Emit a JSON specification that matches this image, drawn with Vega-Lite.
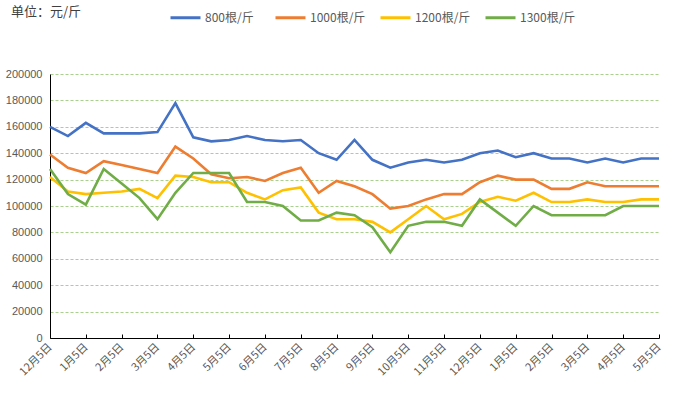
{
  "$schema": "https://vega.github.io/schema/vega-lite/v6.json",
  "autosize": "none",
  "width": 609,
  "height": 264,
  "padding": {"left": 50, "top": 74, "right": 32, "bottom": 56},
  "background": "white",
  "title": {"text": "单位：元/斤", "anchor": "start", "frame": "group", "dx": -39, "offset": 0, "dy": 18, "fontSize": 13, "fontWeight": "normal", "color": "#404040", "font": "Noto Sans CJK SC"},
  "config": {"view": {"stroke": null}, "font": "Noto Sans CJK SC"},
  "data": {"values": [
    {"date": "2019-12-05", "800根/斤": 160000, "1000根/斤": 139000, "1200根/斤": 122000, "1300根/斤": 128000},
    {"date": "2019-12-20", "800根/斤": 153000, "1000根/斤": 129000, "1200根/斤": 111000, "1300根/斤": 109000},
    {"date": "2020-01-05", "800根/斤": 163000, "1000根/斤": 125000, "1200根/斤": 109000, "1300根/斤": 101000},
    {"date": "2020-01-20", "800根/斤": 155000, "1000根/斤": 134000, "1200根/斤": 110000, "1300根/斤": 128000},
    {"date": "2020-02-05", "800根/斤": 155000, "1000根/斤": 131000, "1200根/斤": 111000, "1300根/斤": 117000},
    {"date": "2020-02-20", "800根/斤": 155000, "1000根/斤": 128000, "1200根/斤": 113000, "1300根/斤": 106000},
    {"date": "2020-03-05", "800根/斤": 156000, "1000根/斤": 125000, "1200根/斤": 106000, "1300根/斤": 90000},
    {"date": "2020-03-20", "800根/斤": 178000, "1000根/斤": 145000, "1200根/斤": 123000, "1300根/斤": 110000},
    {"date": "2020-04-05", "800根/斤": 152000, "1000根/斤": 136000, "1200根/斤": 122000, "1300根/斤": 125000},
    {"date": "2020-04-20", "800根/斤": 149000, "1000根/斤": 124000, "1200根/斤": 118000, "1300根/斤": 125000},
    {"date": "2020-05-05", "800根/斤": 150000, "1000根/斤": 121000, "1200根/斤": 118000, "1300根/斤": 125000},
    {"date": "2020-05-20", "800根/斤": 153000, "1000根/斤": 122000, "1200根/斤": 110000, "1300根/斤": 103000},
    {"date": "2020-06-05", "800根/斤": 150000, "1000根/斤": 119000, "1200根/斤": 105000, "1300根/斤": 103000},
    {"date": "2020-06-20", "800根/斤": 149000, "1000根/斤": 125000, "1200根/斤": 112000, "1300根/斤": 100000},
    {"date": "2020-07-05", "800根/斤": 150000, "1000根/斤": 129000, "1200根/斤": 114000, "1300根/斤": 89000},
    {"date": "2020-07-20", "800根/斤": 140000, "1000根/斤": 110000, "1200根/斤": 95000, "1300根/斤": 89000},
    {"date": "2020-08-05", "800根/斤": 135000, "1000根/斤": 119000, "1200根/斤": 90000, "1300根/斤": 95000},
    {"date": "2020-08-20", "800根/斤": 150000, "1000根/斤": 115000, "1200根/斤": 90000, "1300根/斤": 93000},
    {"date": "2020-09-05", "800根/斤": 135000, "1000根/斤": 109000, "1200根/斤": 88000, "1300根/斤": 84000},
    {"date": "2020-09-20", "800根/斤": 129000, "1000根/斤": 98000, "1200根/斤": 80000, "1300根/斤": 65000},
    {"date": "2020-10-05", "800根/斤": 133000, "1000根/斤": 100000, "1200根/斤": 90000, "1300根/斤": 85000},
    {"date": "2020-10-20", "800根/斤": 135000, "1000根/斤": 105000, "1200根/斤": 100000, "1300根/斤": 88000},
    {"date": "2020-11-05", "800根/斤": 133000, "1000根/斤": 109000, "1200根/斤": 90000, "1300根/斤": 88000},
    {"date": "2020-11-20", "800根/斤": 135000, "1000根/斤": 109000, "1200根/斤": 94000, "1300根/斤": 85000},
    {"date": "2020-12-05", "800根/斤": 140000, "1000根/斤": 118000, "1200根/斤": 103000, "1300根/斤": 105000},
    {"date": "2020-12-20", "800根/斤": 142000, "1000根/斤": 123000, "1200根/斤": 107000, "1300根/斤": 95000},
    {"date": "2021-01-05", "800根/斤": 137000, "1000根/斤": 120000, "1200根/斤": 104000, "1300根/斤": 85000},
    {"date": "2021-01-20", "800根/斤": 140000, "1000根/斤": 120000, "1200根/斤": 110000, "1300根/斤": 100000},
    {"date": "2021-02-05", "800根/斤": 136000, "1000根/斤": 113000, "1200根/斤": 103000, "1300根/斤": 93000},
    {"date": "2021-02-20", "800根/斤": 136000, "1000根/斤": 113000, "1200根/斤": 103000, "1300根/斤": 93000},
    {"date": "2021-03-05", "800根/斤": 133000, "1000根/斤": 118000, "1200根/斤": 105000, "1300根/斤": 93000},
    {"date": "2021-03-20", "800根/斤": 136000, "1000根/斤": 115000, "1200根/斤": 103000, "1300根/斤": 93000},
    {"date": "2021-04-05", "800根/斤": 133000, "1000根/斤": 115000, "1200根/斤": 103000, "1300根/斤": 100000},
    {"date": "2021-04-20", "800根/斤": 136000, "1000根/斤": 115000, "1200根/斤": 105000, "1300根/斤": 100000},
    {"date": "2021-05-05", "800根/斤": 136000, "1000根/斤": 115000, "1200根/斤": 105000, "1300根/斤": 100000}
  ]},
  "transform": [{"fold": ["800根/斤", "1000根/斤", "1200根/斤", "1300根/斤"], "as": ["series", "price"]}],
  "mark": {"type": "line", "strokeWidth": 2.6, "strokeJoin": "miter", "strokeCap": "butt"},
  "encoding": {
    "x": {
      "field": "date", "type": "ordinal", "sort": null,
      "scale": {"type": "point", "padding": 0},
      "axis": {
        "title": null,
        "values": ["2019-12-05", "2020-01-05", "2020-02-05", "2020-03-05", "2020-04-05", "2020-05-05", "2020-06-05", "2020-07-05", "2020-08-05", "2020-09-05", "2020-10-05", "2020-11-05", "2020-12-05", "2021-01-05", "2021-02-05", "2021-03-05", "2021-04-05", "2021-05-05"],
        "labelExpr": "utcFormat(toDate(datum.value), '%-m月%-d日')",
        "labelAngle": -45, "labelAlign": "right", "labelBaseline": "middle",
        "labelPadding": 11, "labelFontSize": 11, "labelColor": "#595959",
        "labelFont": "Noto Sans CJK SC",
        "domainColor": "#000000", "domainWidth": 1,
        "tickColor": "#000000", "tickSize": -4, "tickWidth": 1,
        "grid": false, "labelOverlap": false
      }
    },
    "y": {
      "field": "price", "type": "quantitative",
      "scale": {"domain": [0, 200000], "nice": false},
      "axis": {
        "title": null,
        "values": [0, 20000, 40000, 60000, 80000, 100000, 120000, 140000, 160000, 180000, 200000],
        "format": "d",
        "labelFontSize": 11, "labelColor": "#595959", "labelPadding": 8,
        "labelFont": "Liberation Sans",
        "ticks": false,
        "domainColor": "#000000", "domainWidth": 1,
        "grid": true, "gridColor": "#A9D18E", "gridDash": [3, 2], "gridWidth": 1
      }
    },
    "color": {
      "field": "series", "type": "nominal",
      "scale": {"domain": ["800根/斤", "1000根/斤", "1200根/斤", "1300根/斤"], "range": ["#4472C4", "#ED7D31", "#FFC000", "#70AD47"]},
      "legend": {
        "title": null, "orient": "none", "legendX": 119, "legendY": -73,
        "direction": "horizontal", "symbolType": "stroke", "symbolStrokeWidth": 3,
        "symbolSize": 900, "labelFontSize": 12, "labelColor": "#595959",
        "labelOffset": 3, "columnPadding": 8, "gridAlign": "all", "labelFont": "Noto Sans CJK SC"
      }
    }
  }
}
